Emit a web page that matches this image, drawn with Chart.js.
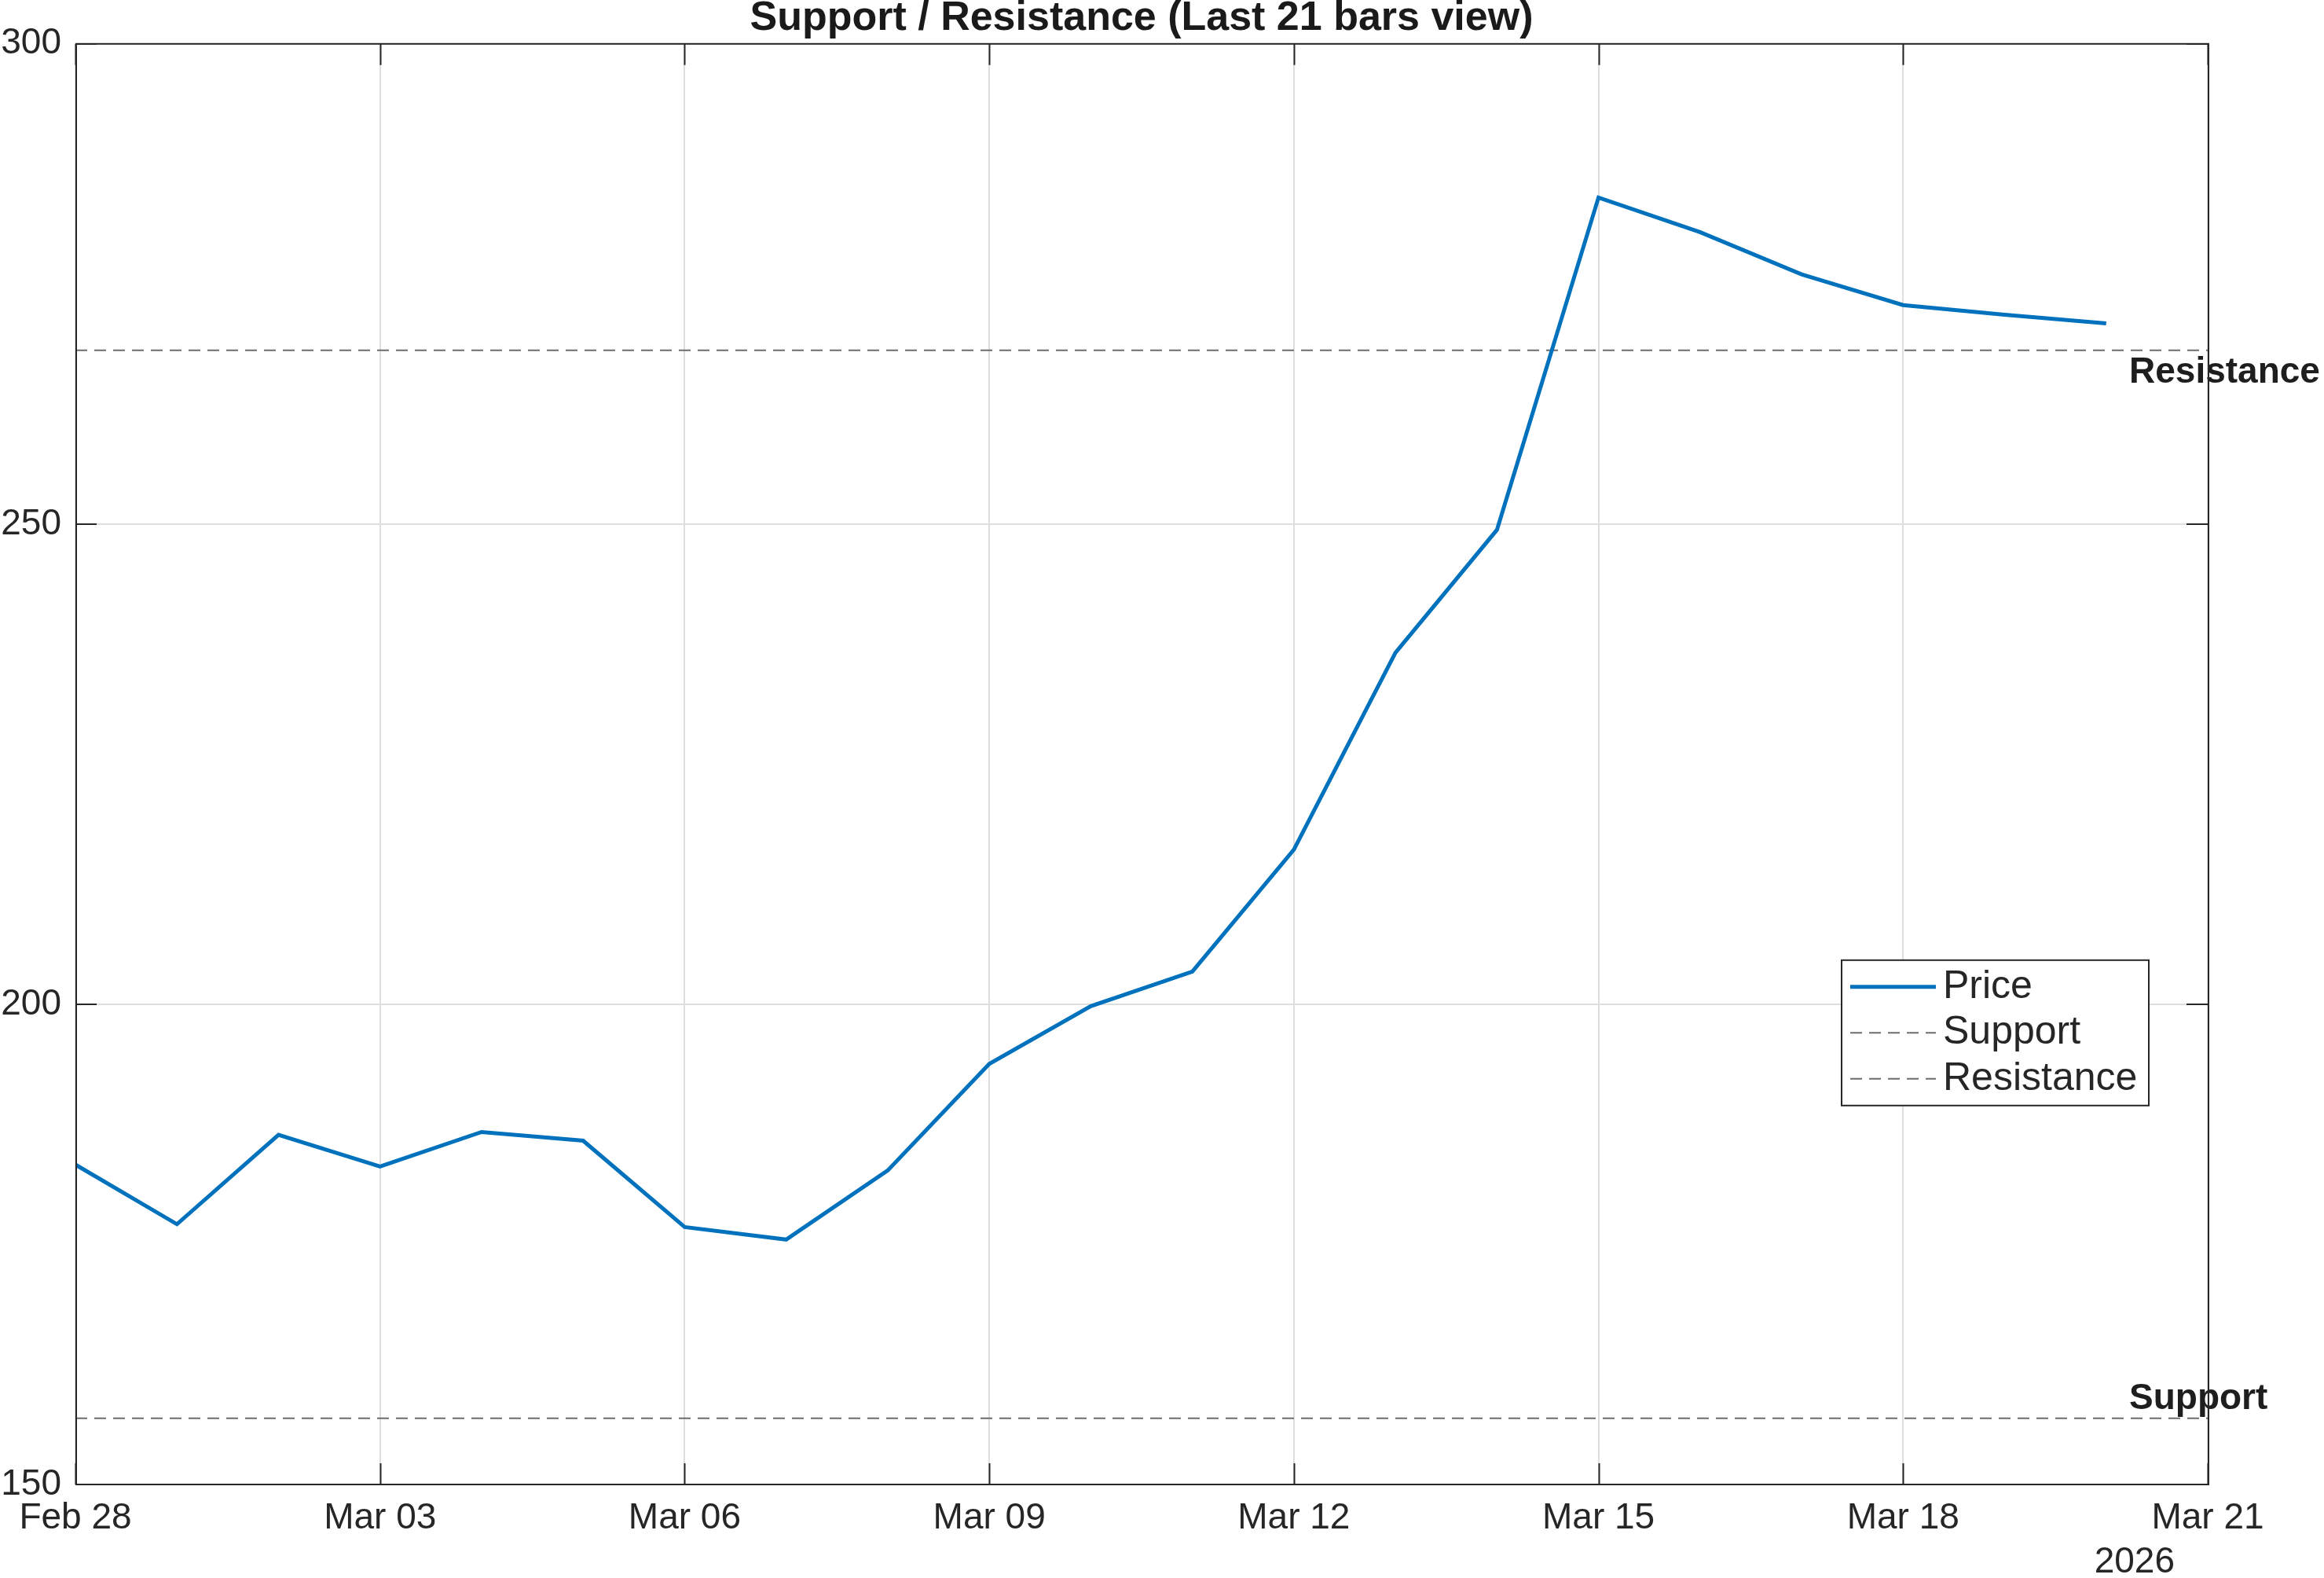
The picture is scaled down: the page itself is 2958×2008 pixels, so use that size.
<!DOCTYPE html>
<html><head><meta charset="utf-8">
<script src="https://cdn.jsdelivr.net/npm/chart.js@4.4.0/dist/chart.umd.min.js"></script>
<style>html,body{margin:0;padding:0;background:#fff;}canvas{display:block;}</style>
</head><body>
<canvas id="c" width="2958" height="2008"></canvas>
<script>
// ---- data ----
const dates = ['Feb 28','Mar 01','Mar 02','Mar 03','Mar 04','Mar 05','Mar 06','Mar 07','Mar 08','Mar 09','Mar 10',
               'Mar 11','Mar 12','Mar 13','Mar 14','Mar 15','Mar 16','Mar 17','Mar 18','Mar 19','Mar 20'];
const price = [183.3,177.1,186.4,183.1,186.7,185.8,176.8,175.5,182.7,193.8,199.8,
               203.4,216.1,236.6,249.4,284.0,280.4,276.0,272.8,271.8,270.9];
const supportLevel = 156.9;
const resistanceLevel = 268.1;
const xTickLabels = ['Feb 28','Mar 03','Mar 06','Mar 09','Mar 12','Mar 15','Mar 18','Mar 21'];
const yTickValues = [150,200,250,300];
const yearLabel = '2026';
const titleText = 'Support / Resistance (Last 21 bars view)';
const seriesNames = ['Price','Support','Resistance'];

// ---- styles ----
const FONT = '"Liberation Sans", Arial, Helvetica, sans-serif';
const AX = '#262626';
const TXT = '#262626';
const BLUE = '#0072BD';
const GRAY = '#6c6c6c';
const DASH = [15, 9];
const xStep = 3;
const xMin = 0, xMax = (xTickLabels.length - 1) * xStep;
const yMin = yTickValues[0], yMax = yTickValues[yTickValues.length - 1];
const yStep = yTickValues[1] - yTickValues[0];

const framePlugin = {
  id: 'frame',
  afterDatasetsDraw(chart) {
    const {ctx, chartArea: a, scales: {y}} = chart;
    ctx.save();
    ctx.fillStyle = '#1e1e1e';
    ctx.font = 'bold 46px ' + FONT;
    ctx.textAlign = 'left';
    ctx.textBaseline = 'top';
    ctx.fillText(seriesNames[2], a.right - 100, y.getPixelForValue(resistanceLevel) + 6);
    ctx.textBaseline = 'bottom';
    ctx.fillText(seriesNames[1], a.right - 100, y.getPixelForValue(supportLevel) - 1);
    ctx.restore();
  },
  afterDraw(chart) {
    const {ctx, chartArea: a, scales: {x, y}} = chart;
    ctx.save();
    // box
    ctx.strokeStyle = AX; ctx.lineWidth = 2;
    ctx.strokeRect(a.left + 1, a.top, a.right - a.left, a.bottom - a.top);
    // inward ticks
    const TL = 27;
    ctx.beginPath();
    x.ticks.forEach(t => {
      const px = Math.round(x.getPixelForValue(t.value)) + 0.5;
      ctx.moveTo(px, a.bottom); ctx.lineTo(px, a.bottom - TL);
      ctx.moveTo(px, a.top); ctx.lineTo(px, a.top + TL);
    });
    y.ticks.forEach(t => {
      const py = Math.round(y.getPixelForValue(t.value));
      ctx.moveTo(a.left, py); ctx.lineTo(a.left + TL, py);
      ctx.moveTo(a.right, py); ctx.lineTo(a.right - TL, py);
    });
    ctx.stroke();
    // year label
    ctx.fillStyle = TXT;
    ctx.font = '46px ' + FONT;
    ctx.textAlign = 'right';
    ctx.textBaseline = 'middle';
    ctx.fillText(yearLabel, x.getPixelForValue(xMax) - 42, a.bottom + 99);
    // legend
    const bx = a.right - 466, by = a.top + 1166, bw = 391, bh = 185;
    ctx.fillStyle = '#fff';
    ctx.fillRect(bx, by, bw, bh);
    ctx.strokeStyle = AX; ctx.lineWidth = 2;
    ctx.strokeRect(bx, by, bw, bh);
    ctx.font = '50px ' + FONT;
    ctx.textAlign = 'left';
    ctx.textBaseline = 'middle';
    chart.data.datasets.forEach((ds, i) => {
      const ry = by + 34 + i * 58.5;
      ctx.save();
      ctx.strokeStyle = ds.borderColor;
      ctx.lineWidth = ds.borderWidth;
      ctx.setLineDash(ds.borderDash || []);
      ctx.beginPath(); ctx.moveTo(bx + 11, ry); ctx.lineTo(bx + 120, ry); ctx.stroke();
      ctx.restore();
      ctx.fillStyle = TXT;
      ctx.fillText(ds.label, bx + 129, ry);
    });
    ctx.restore();
  }
};

new Chart(document.getElementById('c'), {
  type: 'line',
  data: {
    datasets: [
      { label: seriesNames[0], data: price.map((v, i) => ({x: i, y: v})),
        borderColor: BLUE, borderWidth: 5, pointRadius: 0, tension: 0, fill: false },
      { label: seriesNames[1], data: [{x: xMin, y: supportLevel}, {x: xMax, y: supportLevel}],
        borderColor: GRAY, borderWidth: 2, borderDash: DASH, pointRadius: 0, fill: false },
      { label: seriesNames[2], data: [{x: xMin, y: resistanceLevel}, {x: xMax, y: resistanceLevel}],
        borderColor: GRAY, borderWidth: 2, borderDash: DASH, pointRadius: 0, fill: false }
    ]
  },
  options: {
    responsive: false, animation: false, devicePixelRatio: 1,
    layout: { padding: { left: 0, right: 148, top: 0, bottom: 0 } },
    plugins: {
      legend: { display: false },
      tooltip: { enabled: false },
      title: { display: true, text: titleText, fullSize: false, color: '#1a1a1a',
               font: { family: FONT, size: 52, weight: 'bold', lineHeight: 0.9 },
               padding: { top: 0, bottom: 9 } }
    },
    scales: {
      x: { type: 'linear', min: xMin, max: xMax,
           ticks: { stepSize: xStep, autoSkip: false, maxRotation: 0, padding: 16, color: TXT,
                    font: { family: FONT, size: 46 },
                    callback: v => xTickLabels[Math.round(v / xStep)] },
           grid: { color: '#dedede', lineWidth: 2, drawTicks: false },
           border: { display: false },
           afterFit: s => { s.height = 119; } },
      y: { type: 'linear', min: yMin, max: yMax,
           ticks: { stepSize: yStep, padding: 18, color: TXT, font: { family: FONT, size: 46 } },
           grid: { color: '#dedede', lineWidth: 2, drawTicks: false },
           border: { display: false },
           afterFit: s => { s.width = 96; } }
    }
  },
  plugins: [framePlugin]
});
</script>
</body></html>
